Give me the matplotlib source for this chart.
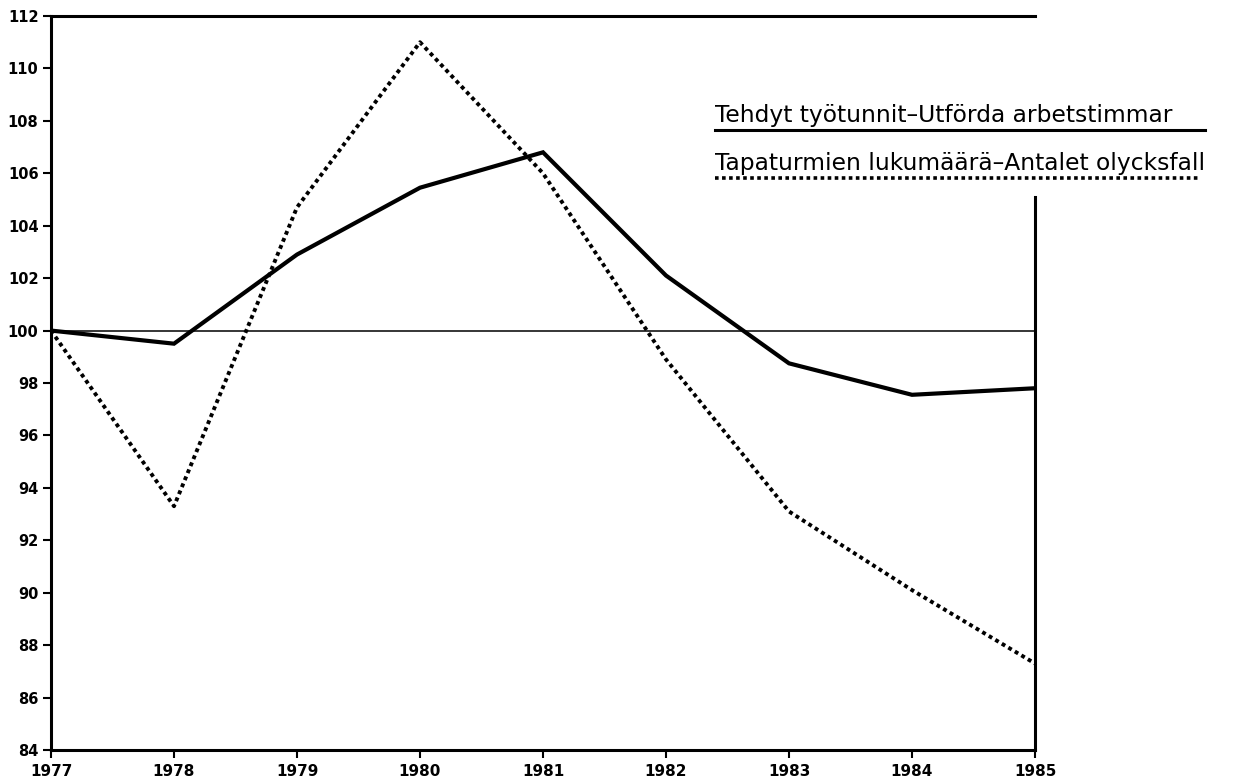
import matplotlib
matplotlib.use("Agg")
import matplotlib.pyplot as plt

years = [1977, 1978, 1979, 1980, 1981, 1982, 1983, 1984, 1985]
hours = [100.0, 99.5, 102.9, 105.45, 106.8, 102.1, 98.75, 97.55, 97.8]
accidents = [100.0, 93.3, 104.7, 111.0, 106.0, 98.9, 93.1, 90.1, 87.3]
yticks = list(range(84, 113, 2))
label_hours = "Tehdyt työtunnit\u2013Utförda arbetstimmar"
label_acc = "Tapaturmien lukumäärä\u2013Antalet olycksfall"

plt.rcParams['font.family'] = ['DejaVu Sans']

fig = plt.figure(figsize=(12.55, 7.83), dpi=100)
ax = fig.add_axes([51/1255, 1-750/783, 984/1255, 734/783])

ax.axhline(100, color='black', lw=1.1, zorder=1)
ax.plot(years, hours, color='black', lw=3.0, solid_joinstyle='miter', zorder=3)
ax.plot(years, accidents, color='black', lw=2.8, linestyle=(0, (1.0, 0.95)), zorder=3)

ax.set_xlim(1977, 1985)
ax.set_ylim(84, 112)
ax.set_xticks(years)
ax.set_xticklabels([str(y) for y in years], fontsize=11, fontweight='bold')
ax.set_yticks(yticks)
ax.set_yticklabels([str(v) for v in yticks], fontsize=10.5, fontweight='bold')
ax.tick_params(axis='both', length=6, width=1.5, direction='out', pad=3)
ax.tick_params(axis='x', pad=4)

for s in ['left', 'bottom', 'top', 'right']:
    ax.spines[s].set_linewidth(2.2)
ax.spines['right'].set_bounds(84, 105.1)

# legend
t1 = ax.text(0.675, 0.856, label_hours, transform=ax.transAxes, fontsize=16,
             ha='left', va='baseline')
t2 = ax.text(0.675, 0.790, label_acc, transform=ax.transAxes, fontsize=16,
             ha='left', va='baseline')
fig.canvas.draw()
r = fig.canvas.get_renderer()
w = t1.get_window_extent(r).width
t1.set_fontsize(16 * 458 / w)
t2.set_fontsize(16 * 458 / w)
ax.plot([0.675, 1.173], [0.845, 0.845], transform=ax.transAxes, color='black',
        lw=2.2, clip_on=False)
ax.plot([0.675, 1.168], [0.779, 0.779], transform=ax.transAxes, color='black',
        lw=2.6, linestyle=(0, (1.0, 0.95)), clip_on=False)

fig.savefig("out.png", dpi=100)
